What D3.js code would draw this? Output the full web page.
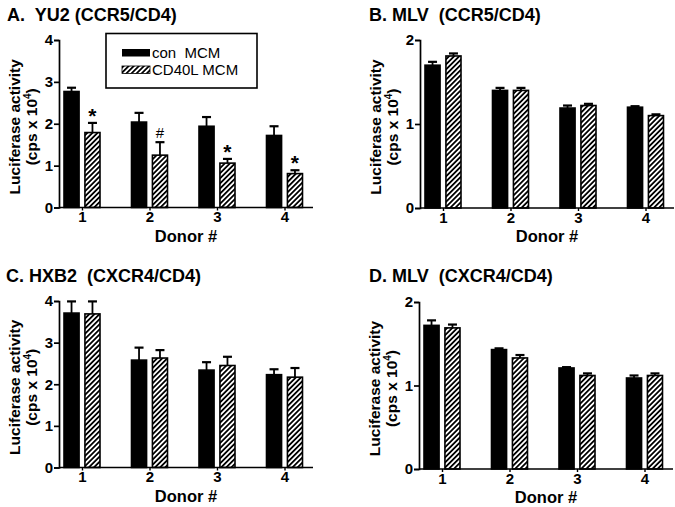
<!DOCTYPE html>
<html>
<head>
<meta charset="utf-8">
<script src="https://cdn.jsdelivr.net/npm/d3@7"></script>
<style>
  html, body { margin: 0; padding: 0; background: #fff; }
  svg { display: block; font-family: "Liberation Sans", Arial, Helvetica, sans-serif; }
</style>
</head>
<body>
<svg id="chart" width="675" height="507"></svg>
<script>
// ---------- data ----------
const donors = ["1", "2", "3", "4"];
const seriesNames = ["con  MCM", "CD40L MCM"];
const panelTitles = ["A.  YU2 (CCR5/CD4)", "B. MLV  (CCR5/CD4)", "C. HXB2  (CXCR4/CD4)", "D. MLV  (CXCR4/CD4)"];
const yTicks4 = [0, 1, 2, 3, 4];
const yTicks2 = [0, 1, 2];

const yu2Con = [2.77, 2.04, 1.94, 1.72];
const yu2ConErr = [0.09, 0.22, 0.22, 0.22];
const yu2Cd40 = [1.79, 1.25, 1.06, 0.81];
const yu2Cd40Err = [0.23, 0.31, 0.10, 0.08];
const yu2Marks = ["*", "#", "*", "*"];

const mlvR5Con = [1.70, 1.40, 1.19, 1.20];
const mlvR5ConErr = [0.04, 0.03, 0.03, 0.012];
const mlvR5Cd40 = [1.81, 1.40, 1.22, 1.10];
const mlvR5Cd40Err = [0.03, 0.03, 0.02, 0.015];

const hxb2Con = [3.71, 2.58, 2.34, 2.23];
const hxb2ConErr = [0.28, 0.30, 0.19, 0.13];
const hxb2Cd40 = [3.69, 2.63, 2.45, 2.17];
const hxb2Cd40Err = [0.30, 0.19, 0.21, 0.22];

const mlvX4Con = [1.72, 1.43, 1.21, 1.09];
const mlvX4ConErr = [0.06, 0.015, 0.01, 0.03];
const mlvX4Cd40 = [1.69, 1.33, 1.12, 1.12];
const mlvX4Cd40Err = [0.04, 0.035, 0.025, 0.025];

// ---------- layout ----------
const svg = d3.select("#chart");
const defs = svg.append("defs");
const pat = defs.append("pattern")
  .attr("id", "hatch").attr("patternUnits", "userSpaceOnUse")
  .attr("width", 3.6).attr("height", 3.6)
  .attr("patternTransform", "rotate(45)");
pat.append("rect").attr("width", 3.6).attr("height", 3.6).attr("fill", "#fff");
pat.append("line").attr("x1", 0.9).attr("y1", 0).attr("x2", 0.9).attr("y2", 3.6)
  .attr("stroke", "#000").attr("stroke-width", 1.8);

const panels = [
  { title: panelTitles[0], ax: 59,  top: 40,  bottom: 207.5, max: 4, ticks: yTicks4, tx: 7,   ty: 21,
    con: yu2Con, conErr: yu2ConErr, cd: yu2Cd40, cdErr: yu2Cd40Err, marks: yu2Marks },
  { title: panelTitles[1], ax: 420, top: 40,  bottom: 208,   max: 2, ticks: yTicks2, tx: 369, ty: 21,
    con: mlvR5Con, conErr: mlvR5ConErr, cd: mlvR5Cd40, cdErr: mlvR5Cd40Err },
  { title: panelTitles[2], ax: 59,  top: 301, bottom: 467.5, max: 4, ticks: yTicks4, tx: 6,   ty: 282,
    con: hxb2Con, conErr: hxb2ConErr, cd: hxb2Cd40, cdErr: hxb2Cd40Err },
  { title: panelTitles[3], ax: 419, top: 302, bottom: 469,   max: 2, ticks: yTicks2, tx: 369, ty: 282,
    con: mlvX4Con, conErr: mlvX4ConErr, cd: mlvX4Cd40, cdErr: mlvX4Cd40Err }
];

const axisLen = 254;
const step = 67.5;
const firstOff = 23;
const fontFam = "'Liberation Sans', Arial, sans-serif";

panels.forEach(p => {
  const g = svg.append("g");
  const y = d3.scaleLinear().domain([0, p.max]).range([p.bottom, p.top]);
  const x = d3.scalePoint().domain(donors).range([p.ax + firstOff, p.ax + firstOff + 3 * step]);
  const inner = d3.scaleBand().domain(["con", "cd"]).range([-18, 18]).paddingInner(0.28);

  // title
  g.append("text").attr("x", p.tx).attr("y", p.ty)
    .attr("font-size", 18).attr("font-weight", "bold")
    .style("white-space", "pre")
    .text(p.title);

  const rows = donors.map((d, i) => [
    { d, s: "con", v: p.con[i], e: p.conErr[i] },
    { d, s: "cd", v: p.cd[i], e: p.cdErr[i], m: p.marks ? p.marks[i] : null }
  ]).flat();

  // error bars + marks
  rows.forEach(r => {
    const cx = x(r.d) + inner(r.s) + inner.bandwidth() / 2;
    g.append("line").attr("x1", cx).attr("x2", cx)
      .attr("y1", y(r.v)).attr("y2", y(r.v + r.e))
      .attr("stroke", "#000").attr("stroke-width", 1.8);
    g.append("line").attr("x1", cx - 4.5).attr("x2", cx + 4.5)
      .attr("y1", y(r.v + r.e)).attr("y2", y(r.v + r.e))
      .attr("stroke", "#000").attr("stroke-width", 2.2);
    if (r.m) {
      const isHash = r.m === "#";
      g.append("text").attr("x", cx).attr("y", y(r.v + r.e) + (isHash ? -4 : 0))
        .attr("text-anchor", "middle")
        .attr("font-size", isHash ? 15 : 21)
        .attr("font-weight", isHash ? "normal" : "bold")
        .text(r.m);
    }
  });

  g.selectAll("rect.bar").data(rows).join("rect")
    .attr("class", "bar")
    .attr("x", r => x(r.d) + inner(r.s))
    .attr("width", inner.bandwidth())
    .attr("y", r => y(r.v))
    .attr("height", r => y(0) - y(r.v))
    .attr("fill", r => r.s === "con" ? "#000" : "url(#hatch)")
    .attr("stroke", "#000").attr("stroke-width", 1.6);

  // y axis
  const ya = g.append("g").attr("transform", `translate(${p.ax},0)`)
    .call(d3.axisLeft(y).tickValues(p.ticks).tickFormat(d3.format("d")).tickSize(5).tickPadding(1));
  ya.select(".domain").attr("stroke-width", 1.7);
  ya.selectAll(".tick line").attr("stroke-width", 1.7);
  ya.selectAll("text").attr("font-size", 15).attr("font-weight", "bold").attr("font-family", fontFam);

  // x axis
  const xa = g.append("g").attr("transform", `translate(0,${p.bottom})`)
    .call(d3.axisBottom(x).tickSize(3).tickPadding(1));
  xa.select(".domain").remove();
  xa.append("line").attr("x1", p.ax).attr("x2", p.ax + axisLen)
    .attr("stroke", "#000").attr("stroke-width", 1.7);
  xa.selectAll(".tick line").attr("stroke-width", 1.4);
  xa.selectAll("text").attr("font-size", 15).attr("font-weight", "bold").attr("font-family", fontFam);

  // x title
  g.append("text").attr("x", p.ax + 127).attr("y", p.bottom + 34)
    .attr("text-anchor", "middle").attr("font-size", 16.5).attr("font-weight", "bold")
    .text("Donor #");

  // y title
  const cy = (p.top + p.bottom) / 2 + 3;
  g.append("text").attr("transform", `translate(${p.ax - 39},${cy}) rotate(-90)`)
    .attr("text-anchor", "middle").attr("font-size", 15.5).attr("font-weight", "bold")
    .text("Luciferase activity");
  const t2 = g.append("text").attr("transform", `translate(${p.ax - 22},${cy}) rotate(-90)`)
    .attr("text-anchor", "middle").attr("font-size", 15.5).attr("font-weight", "bold");
  t2.append("tspan").text("(cps x 10");
  t2.append("tspan").attr("font-size", 10).attr("dy", -6).text("4");
  t2.append("tspan").attr("dy", 6).text(")");
});

// ---------- legend ----------
const lg = svg.append("g");
lg.append("rect").attr("x", 106).attr("y", 33.5).attr("width", 151).attr("height", 54.5)
  .attr("fill", "#fff").attr("stroke", "#000").attr("stroke-width", 1.6);
seriesNames.forEach((name, i) => {
  lg.append("rect").attr("x", 122).attr("y", 49 + i * 17).attr("width", 28).attr("height", 7.5)
    .attr("fill", i === 0 ? "#000" : "url(#hatch)").attr("stroke", "#000").attr("stroke-width", i === 0 ? 0 : 0.8);
  lg.append("text").attr("x", 152).attr("y", 57.5 + i * 17)
    .attr("font-size", 15).style("white-space", "pre")
    .text(name);
});
</script>
</body>
</html>
